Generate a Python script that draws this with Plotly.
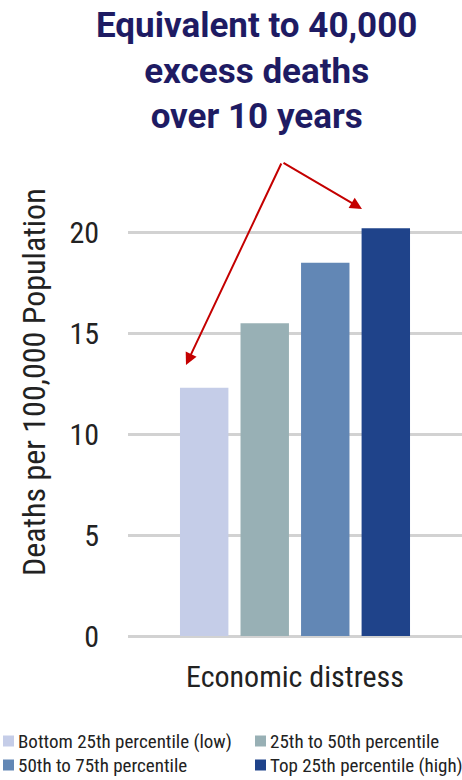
import plotly.graph_objects as go

categories = ["Economic distress"]
series_names = ["Bottom 25th percentile (low)", "25th to 50th percentile",
                "50th to 75th percentile", "Top 25th percentile (high)"]
series_values = [12.3, 15.5, 18.5, 20.2]
series_colors = ["#c5cde8", "#98b0b5", "#6287b5", "#1f438a"]
y_ticks = [0, 5, 10, 15, 20]
title_lines = ["Equivalent to 40,000", "excess deaths", "over 10 years"]
y_title = "Deaths per 100,000 Population"

FONT = "Roboto Condensed, Liberation Sans Narrow, sans-serif"
TFONT = "Roboto, sans-serif"
TXT = "#222222"

fig = go.Figure()
for name, val, col in zip(series_names, series_values, series_colors):
    fig.add_trace(go.Bar(
        x=categories, y=[val], name=name, showlegend=False,
        marker=dict(color=col, line=dict(width=0)),
    ))

W, H = 462, 780
L, R, T, B = 128, 0, 192, 144
pw, ph = W - L - R, H - T - B

def px(x):
    return (x - L) / pw

def py(y):
    return (H - B - y) / ph

# title
fig.add_annotation(
    text="<br>".join(title_lines), x=px(256), y=py(3), xref="paper", yref="paper",
    xanchor="center", yanchor="top", showarrow=False, align="center",
    font=dict(family=TFONT, size=35, color="#1e1b63", weight=700),
)

# arrows
tail = (282, 162)
for tip in [(186, 365), (362, 209)]:
    fig.add_annotation(
        x=px(tip[0]), y=py(tip[1]), xref="paper", yref="paper",
        ax=tail[0] - tip[0], ay=tail[1] - tip[1], axref="pixel", ayref="pixel",
        showarrow=True, arrowhead=2, arrowsize=1.2, arrowwidth=2,
        arrowcolor="#c40000", text="",
    )

# axis titles
fig.add_annotation(
    text=y_title, x=px(34), y=py(382), xref="paper", yref="paper",
    xanchor="center", yanchor="middle", showarrow=False, textangle=-90,
    font=dict(family=FONT, size=32, color=TXT),
)
fig.add_annotation(
    text=categories[0], x=px(295), y=py(676), xref="paper", yref="paper",
    xanchor="center", yanchor="middle", showarrow=False,
    font=dict(family=FONT, size=30, color=TXT),
)

# legend (two columns, two rows)
leg_pos = [(3, 741), (255, 741), (3, 765), (255, 765)]
for (lx, ly), name, col in zip(leg_pos, series_names, series_colors):
    fig.add_shape(
        type="rect", xref="paper", yref="paper",
        x0=px(lx), x1=px(lx + 11), y0=py(ly - 5.5), y1=py(ly + 5.5),
        fillcolor=col, line=dict(width=0),
    )
    fig.add_annotation(
        text=name, x=px(lx + 14), y=py(ly), xref="paper", yref="paper",
        xanchor="left", yanchor="middle", showarrow=False, borderpad=0,
        font=dict(family=FONT, size=19, color=TXT),
    )

fig.update_layout(
    width=W, height=H,
    margin=dict(l=L, r=R, t=T, b=B, pad=0, autoexpand=False),
    paper_bgcolor="white", plot_bgcolor="white",
    barmode="group", bargap=0.275, bargroupgap=0.2,
    font=dict(family=FONT, color=TXT),
    xaxis=dict(showticklabels=False, showgrid=False, zeroline=False, showline=False),
    yaxis=dict(
        range=[0, 22], tickvals=y_ticks,
        tickfont=dict(size=30, family=FONT, color=TXT),
        ticks="", ticklabelstandoff=28,
        showgrid=True, gridcolor="#d2d2d2", gridwidth=2.5,
        zeroline=True, zerolinecolor="#d2d2d2", zerolinewidth=2.5,
    ),
    showlegend=False,
)

fig.write_html("out.html", config={"displayModeBar": False},
               post_script="document.body.style.margin='0';")
